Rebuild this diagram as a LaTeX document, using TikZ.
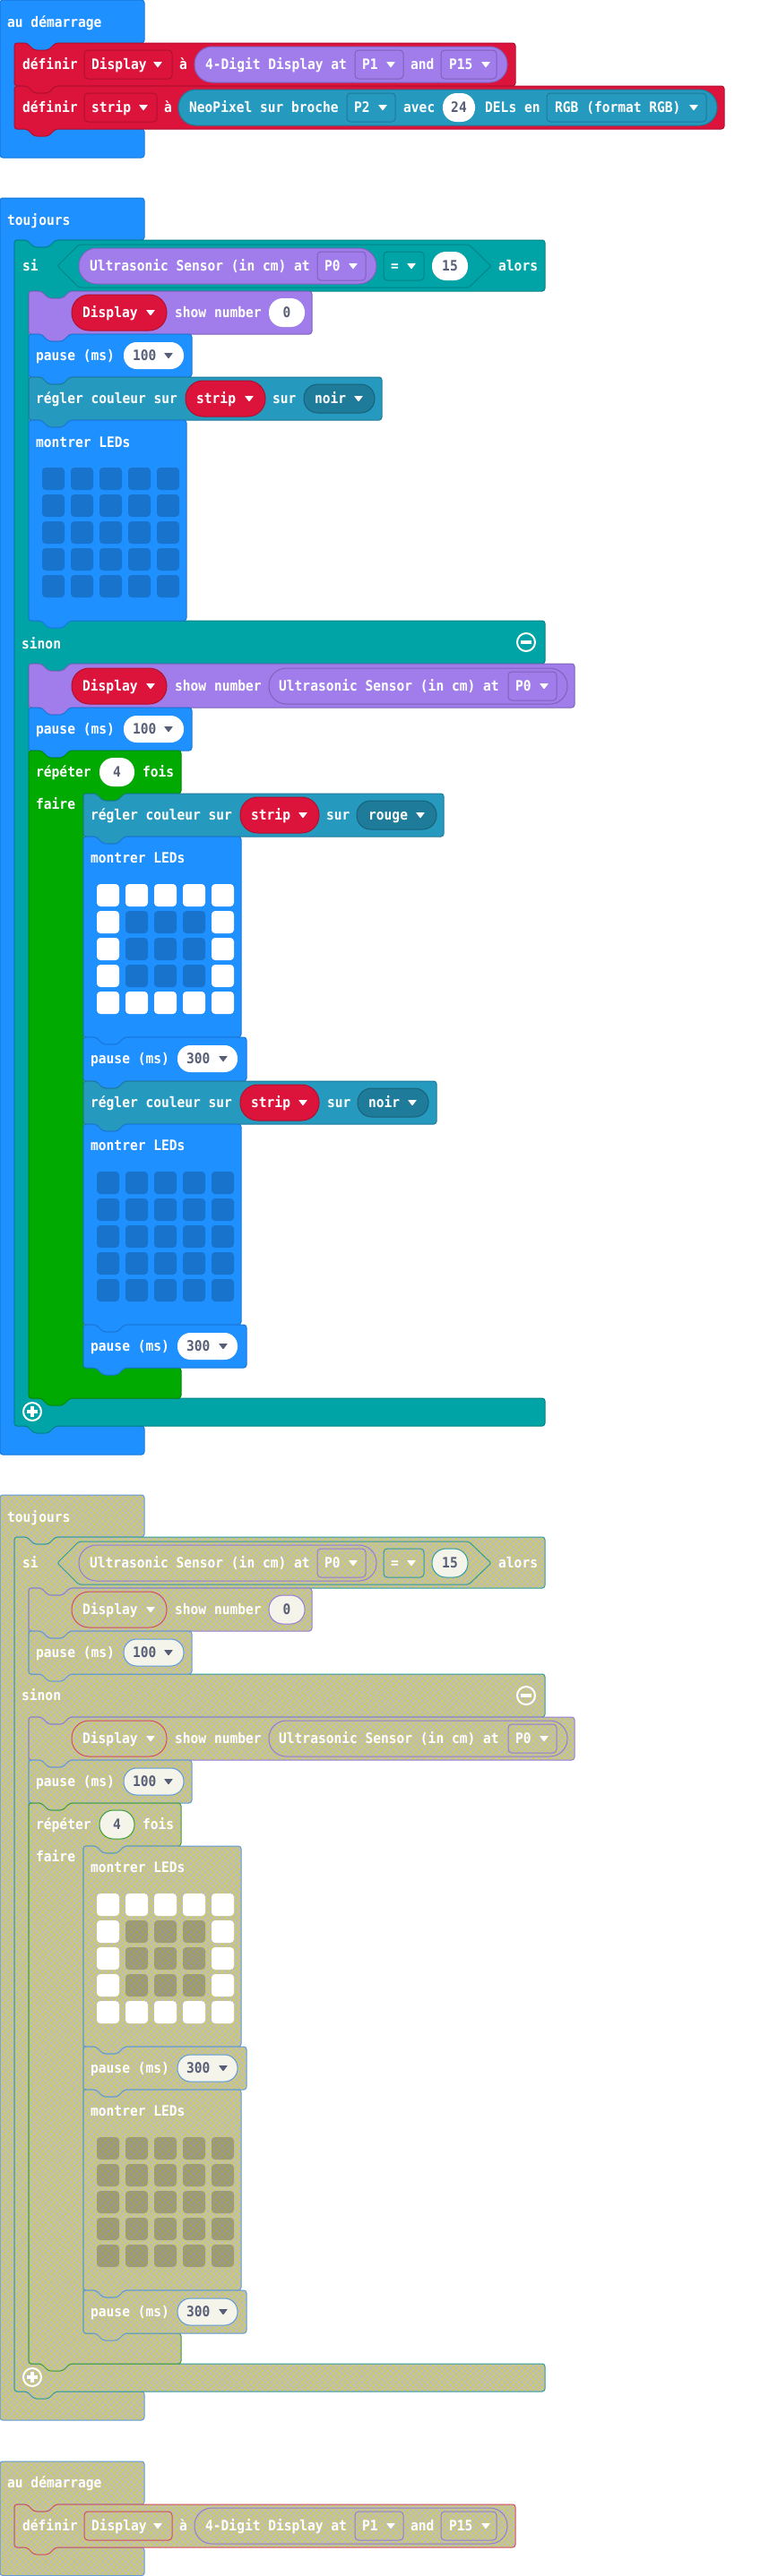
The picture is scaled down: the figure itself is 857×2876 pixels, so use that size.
\documentclass[tikz,border=0pt]{standalone}
\usepackage{fontspec}
\usepackage{tikz}
\usetikzlibrary{patterns.meta}
\newfontfamily\blkfont{DejaVu Sans Mono}[FakeStretch=0.91]

\definecolor{basicblue}{HTML}{1E90FF}
\definecolor{basicline}{HTML}{1877D9}
\definecolor{varred}{HTML}{DC143C}
\definecolor{varline}{HTML}{B0102F}
\definecolor{sonarpurple}{HTML}{A07DEA}
\definecolor{sonarline}{HTML}{7F62BB}
\definecolor{logicteal}{HTML}{00A4A6}
\definecolor{logicline}{HTML}{008385}
\definecolor{neoblue}{HTML}{2699BF}
\definecolor{neoline}{HTML}{1E7A99}
\definecolor{neodark}{HTML}{1E7B9A}
\definecolor{loopgreen}{HTML}{00AA00}
\definecolor{loopline}{HTML}{008800}
\definecolor{valgray}{HTML}{575E75}
\definecolor{disgray}{HTML}{BCBCBC}
\definecolor{disyellow}{HTML}{D8D43A}
\definecolor{disblue}{HTML}{5E9AD6}
\definecolor{disteal}{HTML}{2E9C9E}
\definecolor{disred}{HTML}{D64A62}
\definecolor{dispurple}{HTML}{957BD6}
\definecolor{disgreen}{HTML}{3A9E3A}
\definecolor{disivory}{HTML}{F4F4EA}

\tikzset{
  blk/.style={line width=1pt,rounded corners=3pt,line join=round},
  basic/.style={blk,fill=basicblue,draw=basicline},
  varblk/.style={blk,fill=varred,draw=varline},
  sonar/.style={blk,fill=sonarpurple,draw=sonarline},
  logic/.style={blk,fill=logicteal,draw=logicline},
  neo/.style={blk,fill=neoblue,draw=neoline},
  neodk/.style={blk,fill=neodark,draw=neoline!80!black},
  loop/.style={blk,fill=loopgreen,draw=loopline},
  wpill/.style={blk,fill=white},
  dis/.style={blk,fill=disgray,
    postaction={pattern={Lines[angle=45,distance=4.5pt,line width=.6pt]},pattern color=disyellow},
    postaction={pattern={Lines[angle=-45,distance=4.5pt,line width=.6pt]},pattern color=disyellow},
    postaction={draw=#1,line width=1pt}},
  dwp/.style={blk,fill=disivory,draw=#1},
  lbl/.style={anchor=base west,inner sep=0pt,text=white,
    font=\blkfont\bfseries\fontsize{16pt}{18pt}\selectfont},
  vlbl/.style={lbl,text=valgray},
  vmid/.style={lbl,anchor=base,text=valgray}
}

\newcommand{\stmt}[5]{\path[#1] (#2,#3) -- (#2+14,#3) -- (#2+22,#3+8) -- (#2+38,#3+8) -- (#2+46,#3) -- (#4,#3) -- (#4,#5) -- (#2+46,#5) -- (#2+38,#5+8) -- (#2+22,#5+8) -- (#2+14,#5) -- (#2,#5) -- cycle;}
\newcommand{\pill}[6]{\path[#1,rounded corners=#6pt] (#2,#3) rectangle (#4,#5);}
\newcommand{\ddarrow}[3]{\fill[#3,rounded corners=.6pt] (#1-5,#2-3) -- (#1+5,#2-3) -- (#1,#2+3.5) -- cycle;}
\newcommand{\minusic}[2]{\draw[white,line width=2pt] (#1,#2) circle[radius=10pt]; \fill[white] (#1-6,#2-2) rectangle (#1+6,#2+2);}
\newcommand{\plusic}[2]{\draw[white,line width=2pt] (#1,#2) circle[radius=10pt]; \fill[white] (#1-6,#2-2) rectangle (#1+6,#2+2); \fill[white] (#1-2,#2-6) rectangle (#1+2,#2+6);}
\newcommand{\leds}[3]{%
  \foreach \i in {0,...,4}{\foreach \j in {0,...,4}{%
    \pgfmathtruncatemacro\ledon{#3*((\i==0)||(\i==4)||(\j==0)||(\j==4))}%
    \ifnum\ledon=1
      \fill[white,rounded corners=4pt] (#1+32*\i,#2+30*\j) rectangle ++(25,25);
    \else
      \fill[black,opacity=.2,rounded corners=4pt] (#1+32*\i,#2+30*\j) rectangle ++(25,25);
    \fi}}}

\begin{document}
\begin{tikzpicture}[x=1pt,y=-1pt]
\fill[white] (0,0) rectangle (857,2876);
\useasboundingbox (0,0) rectangle (857,2876);

\path[basic] (0,0) -- (161,0) -- (161,48) -- (62,48) -- (54,56) -- (38,56) -- (30,48) -- (16,48) -- (16,144) -- (161,144) -- (161,176) -- (0,176) -- cycle;
\node[lbl] (a-start) at (8,30.5) {au démarrage};
\stmt{varblk}{16}{48}{575}{96}
\node[lbl] (a-def1) at (25,77.5) {définir};
\pill{varblk}{94}{56}{192}{88}{4}
\node[lbl] (a-disp) at (102,77.5) {Display};
\ddarrow{176}{72}{white}
\node[lbl] (a-to1) at (200,77.5) {à};
\pill{sonar}{217}{52}{566}{92}{19.5}
\node[lbl] (a-tm) at (229,77.5) {4-Digit Display at};
\pill{sonar}{396}{56}{450}{88}{4}
\node[lbl] (a-p1) at (404,77.5) {P1};
\ddarrow{436}{72}{white}
\node[lbl] (a-and) at (458,77.5) {and};
\pill{sonar}{492}{56}{554}{88}{4}
\node[lbl] (a-p15) at (501,77.5) {P15};
\ddarrow{542}{72}{white}
\stmt{varblk}{16}{96}{808}{144}
\node[lbl] (a-def2) at (25,125.5) {définir};
\pill{varblk}{94}{104}{175}{136}{4}
\node[lbl] (a-strip) at (102,125.5) {strip};
\ddarrow{160}{120}{white}
\node[lbl] (a-to2) at (183,125.5) {à};
\pill{neo}{199}{100}{800}{140}{19.5}
\node[lbl] (a-neo) at (211,125.5) {NeoPixel sur broche};
\pill{neo}{387}{104}{441}{136}{4}
\node[lbl] (a-p2) at (395,125.5) {P2};
\ddarrow{427}{120}{white}
\node[lbl] (a-avec) at (450,125.5) {avec};
\pill{wpill}{494}{104}{530}{136}{15.5}
\node[vmid] (a-24) at (512,125.5) {24};
\node[lbl] (a-dels) at (541,125.5) {DELs en};
\pill{neo}{610}{104}{788}{136}{4}
\node[lbl] (a-rgb) at (619,125.5) {RGB (format RGB)};
\ddarrow{774}{120}{white}

\path[basic] (0,221) -- (161,221) -- (161,268) -- (62,268) -- (54,276) -- (38,276) -- (30,268) -- (16,268) -- (16,1592) -- (161,1592) -- (161,1624) -- (0,1624) -- cycle;
\node[lbl] (b-forever) at (8,251.5) {toujours};
\path[logic] (16,268) -- (30,268) -- (38,276) -- (54,276) -- (62,268) -- (608,268) -- (608,325) -- (78,325) -- (70,333) -- (54,333) -- (46,325) -- (32,325) -- (32,693) -- (608,693) -- (608,741) -- (78,741) -- (70,749) -- (54,749) -- (46,741) -- (32,741) -- (32,1561) -- (608,1561) -- (608,1592) -- (62,1592) -- (54,1600) -- (38,1600) -- (30,1592) -- (16,1592) -- cycle;
\path[logic,rounded corners=2pt] (64,297) -- (88,273) -- (523,273) -- (548,297) -- (523,321) -- (88,321) -- cycle;
\node[lbl] (b-si) at (25,302.5) {si};
\pill{sonar}{88}{277}{420}{317}{19.5}
\node[lbl] (b-us1) at (100,302.5) {Ultrasonic Sensor (in cm) at};
\pill{sonar}{354}{281}{408}{313}{4}
\node[lbl] (b-p0a) at (362,302.5) {P0};
\ddarrow{394}{297}{white}
\pill{logic}{428}{281}{473}{313}{4}
\node[lbl] (b-eq) at (436,302.5) {=};
\ddarrow{459}{297}{white}
\pill{wpill}{482}{281}{522}{313}{15.5}
\node[vmid] (b-15) at (502,302.5) {15};
\node[lbl] (b-alors) at (556,302.5) {alors};
\stmt{sonar}{32}{325}{348}{373}
\pill{varblk}{80}{329}{186}{369}{19.5}
\node[lbl] (b-disp1) at (92,354.5) {Display};
\ddarrow{168}{349}{white}
\node[lbl] (b-show1) at (195,354.5) {show number};
\pill{wpill}{300}{333}{340}{365}{15.5}
\node[vmid] (b-0) at (320,354.5) {0};
\stmt{basic}{32}{373}{214}{421}
\node[lbl] (b-pause1) at (40,402.5) {pause (ms)};
\pill{wpill}{138}{382}{205}{412}{14.5}
\node[vlbl] (b-100a) at (148,402.5) {100};
\ddarrow{188}{397}{valgray}
\stmt{neo}{32}{421}{426}{469}
\node[lbl] (b-set1) at (40,450.5) {régler couleur sur};
\pill{varblk}{207}{425}{296}{465}{19.5}
\node[lbl] (b-strip1) at (219,450.5) {strip};
\ddarrow{278}{445}{white}
\node[lbl] (b-sur1) at (304,450.5) {sur};
\pill{neodk}{339}{429}{418}{461}{15.5}
\node[lbl] (b-noir1) at (351,450.5) {noir};
\ddarrow{400}{445}{white}
\stmt{basic}{32}{469}{208}{693}
\node[lbl] (b-leds1) at (40,499.5) {montrer LEDs};
\leds{47}{522}{0}
\node[lbl] (b-sinon) at (24,724.5) {sinon};
\minusic{587}{717}
\stmt{sonar}{32}{741}{641}{790}
\pill{varblk}{80}{746}{186}{786}{19.5}
\node[lbl] (b-disp2) at (92,771.5) {Display};
\ddarrow{168}{766}{white}
\node[lbl] (b-show2) at (195,771.5) {show number};
\pill{sonar}{300}{746}{633}{786}{19.5}
\node[lbl] (b-us2) at (311,771.5) {Ultrasonic Sensor (in cm) at};
\pill{sonar}{567}{750}{621}{782}{4}
\node[lbl] (b-p0b) at (575,771.5) {P0};
\ddarrow{607}{766}{white}
\stmt{basic}{32}{790}{214}{838}
\node[lbl] (b-pause2) at (40,819.5) {pause (ms)};
\pill{wpill}{138}{799}{205}{829}{14.5}
\node[vlbl] (b-100b) at (148,819.5) {100};
\ddarrow{188}{814}{valgray}
\path[loop] (32,838) -- (46,838) -- (54,846) -- (70,846) -- (78,838) -- (202,838) -- (202,886) -- (139,886) -- (131,894) -- (115,894) -- (107,886) -- (93,886) -- (93,1527) -- (202,1527) -- (202,1561) -- (78,1561) -- (70,1569) -- (54,1569) -- (46,1561) -- (32,1561) -- cycle;
\node[lbl] (b-rep) at (40,867.5) {répéter};
\pill{wpill}{111}{846}{150}{878}{15.5}
\node[vmid] (b-4) at (130.5,867.5) {4};
\node[lbl] (b-fois) at (159,867.5) {fois};
\node[lbl] (b-faire) at (40,903.5) {faire};
\stmt{neo}{93}{886}{495}{934}
\node[lbl] (b-set2) at (101,915.5) {régler couleur sur};
\pill{varblk}{268}{890}{356}{930}{19.5}
\node[lbl] (b-strip2) at (280,915.5) {strip};
\ddarrow{338}{910}{white}
\node[lbl] (b-sur2) at (364,915.5) {sur};
\pill{neodk}{398}{894}{487}{926}{15.5}
\node[lbl] (b-rouge) at (411,915.5) {rouge};
\ddarrow{469}{910}{white}
\stmt{basic}{93}{934}{269}{1158}
\node[lbl] (b-leds2) at (101,963.5) {montrer LEDs};
\leds{108}{987}{1}
\stmt{basic}{93}{1158}{275}{1207}
\node[lbl] (b-pause3) at (101,1187.5) {pause (ms)};
\pill{wpill}{198}{1167}{265}{1197}{14.5}
\node[vlbl] (b-300a) at (208,1187.5) {300};
\ddarrow{249}{1182}{valgray}
\stmt{neo}{93}{1207}{487}{1255}
\node[lbl] (b-set3) at (101,1236.5) {régler couleur sur};
\pill{varblk}{268}{1211}{356}{1251}{19.5}
\node[lbl] (b-strip3) at (280,1236.5) {strip};
\ddarrow{338}{1231}{white}
\node[lbl] (b-sur3) at (365,1236.5) {sur};
\pill{neodk}{399}{1215}{478}{1247}{15.5}
\node[lbl] (b-noir2) at (411,1236.5) {noir};
\ddarrow{460}{1231}{white}
\stmt{basic}{93}{1255}{269}{1479}
\node[lbl] (b-leds3) at (101,1284.5) {montrer LEDs};
\leds{108}{1308}{0}
\stmt{basic}{93}{1479}{275}{1527}
\node[lbl] (b-pause4) at (101,1508.5) {pause (ms)};
\pill{wpill}{198}{1488}{265}{1518}{14.5}
\node[vlbl] (b-300b) at (208,1508.5) {300};
\ddarrow{249}{1503}{valgray}
\plusic{36}{1576}

\path[dis=disblue] (0,1669) -- (161,1669) -- (161,1716) -- (62,1716) -- (54,1724) -- (38,1724) -- (30,1716) -- (16,1716) -- (16,2670) -- (161,2670) -- (161,2702) -- (0,2702) -- cycle;
\node[lbl] (c-forever) at (8,1699.5) {toujours};
\path[dis=disteal] (16,1716) -- (30,1716) -- (38,1724) -- (54,1724) -- (62,1716) -- (608,1716) -- (608,1773) -- (78,1773) -- (70,1781) -- (54,1781) -- (46,1773) -- (32,1773) -- (32,1869) -- (608,1869) -- (608,1917) -- (78,1917) -- (70,1925) -- (54,1925) -- (46,1917) -- (32,1917) -- (32,2639) -- (608,2639) -- (608,2670) -- (62,2670) -- (54,2678) -- (38,2678) -- (30,2670) -- (16,2670) -- cycle;
\path[dis=disteal,rounded corners=2pt] (64,1745) -- (88,1721) -- (523,1721) -- (548,1745) -- (523,1769) -- (88,1769) -- cycle;
\node[lbl] (c-si) at (25,1750.5) {si};
\pill{dis=dispurple}{88}{1725}{420}{1765}{19.5}
\node[lbl] (c-us1) at (100,1750.5) {Ultrasonic Sensor (in cm) at};
\pill{dis=dispurple}{354}{1729}{408}{1761}{4}
\node[lbl] (c-p0a) at (362,1750.5) {P0};
\ddarrow{394}{1745}{white}
\pill{dis=disteal}{428}{1729}{473}{1761}{4}
\node[lbl] (c-eq) at (436,1750.5) {=};
\ddarrow{459}{1745}{white}
\pill{dwp=disteal}{482}{1729}{522}{1761}{15.5}
\node[vmid] (c-15) at (502,1750.5) {15};
\node[lbl] (c-alors) at (556,1750.5) {alors};
\stmt{dis=dispurple}{32}{1773}{348}{1821}
\pill{dis=disred}{80}{1777}{186}{1817}{19.5}
\node[lbl] (c-disp1) at (92,1802.5) {Display};
\ddarrow{168}{1797}{white}
\node[lbl] (c-show1) at (195,1802.5) {show number};
\pill{dwp=dispurple}{300}{1781}{340}{1813}{15.5}
\node[vmid] (c-0) at (320,1802.5) {0};
\stmt{dis=disblue}{32}{1821}{214}{1869}
\node[lbl] (c-pause1) at (40,1850.5) {pause (ms)};
\pill{dwp=disblue}{138}{1830}{205}{1860}{14.5}
\node[vlbl] (c-100a) at (148,1850.5) {100};
\ddarrow{188}{1845}{valgray}
\node[lbl] (c-sinon) at (24,1898.5) {sinon};
\minusic{587}{1893}
\stmt{dis=dispurple}{32}{1917}{641}{1965}
\pill{dis=disred}{80}{1921}{186}{1961}{19.5}
\node[lbl] (c-disp2) at (92,1946.5) {Display};
\ddarrow{168}{1941}{white}
\node[lbl] (c-show2) at (195,1946.5) {show number};
\pill{dis=dispurple}{300}{1921}{633}{1961}{19.5}
\node[lbl] (c-us2) at (311,1946.5) {Ultrasonic Sensor (in cm) at};
\pill{dis=dispurple}{567}{1925}{621}{1957}{4}
\node[lbl] (c-p0b) at (575,1946.5) {P0};
\ddarrow{607}{1941}{white}
\stmt{dis=disblue}{32}{1965}{214}{2013}
\node[lbl] (c-pause2) at (40,1994.5) {pause (ms)};
\pill{dwp=disblue}{138}{1974}{205}{2004}{14.5}
\node[vlbl] (c-100b) at (148,1994.5) {100};
\ddarrow{188}{1989}{valgray}
\path[dis=disgreen] (32,2013) -- (46,2013) -- (54,2021) -- (70,2021) -- (78,2013) -- (202,2013) -- (202,2061) -- (139,2061) -- (131,2069) -- (115,2069) -- (107,2061) -- (93,2061) -- (93,2605) -- (202,2605) -- (202,2639) -- (78,2639) -- (70,2647) -- (54,2647) -- (46,2639) -- (32,2639) -- cycle;
\node[lbl] (c-rep) at (40,2042.5) {répéter};
\pill{dwp=disgreen}{111}{2021}{150}{2053}{15.5}
\node[vmid] (c-4) at (130.5,2042.5) {4};
\node[lbl] (c-fois) at (159,2042.5) {fois};
\node[lbl] (c-faire) at (40,2078.5) {faire};
\stmt{dis=disblue}{93}{2061}{269}{2285}
\node[lbl] (c-leds1) at (101,2090.5) {montrer LEDs};
\leds{108}{2114}{1}
\stmt{dis=disblue}{93}{2285}{275}{2333}
\node[lbl] (c-pause3) at (101,2314.5) {pause (ms)};
\pill{dwp=disblue}{198}{2294}{265}{2324}{14.5}
\node[vlbl] (c-300a) at (208,2314.5) {300};
\ddarrow{249}{2309}{valgray}
\stmt{dis=disblue}{93}{2333}{269}{2557}
\node[lbl] (c-leds2) at (101,2362.5) {montrer LEDs};
\leds{108}{2386}{0}
\stmt{dis=disblue}{93}{2557}{275}{2605}
\node[lbl] (c-pause4) at (101,2586.5) {pause (ms)};
\pill{dwp=disblue}{198}{2566}{265}{2596}{14.5}
\node[vlbl] (c-300b) at (208,2586.5) {300};
\ddarrow{249}{2581}{valgray}
\plusic{36}{2654}

\path[dis=disblue] (0,2748) -- (161,2748) -- (161,2796) -- (62,2796) -- (54,2804) -- (38,2804) -- (30,2796) -- (16,2796) -- (16,2844) -- (161,2844) -- (161,2875.5) -- (0,2875.5) -- cycle;
\node[lbl] (d-start) at (8,2777.5) {au démarrage};
\stmt{dis=disred}{16}{2796}{575}{2844}
\node[lbl] (d-def) at (25,2825.5) {définir};
\pill{dis=disred}{94}{2804}{192}{2836}{4}
\node[lbl] (d-disp) at (102,2825.5) {Display};
\ddarrow{176}{2820}{white}
\node[lbl] (d-to) at (200,2825.5) {à};
\pill{dis=dispurple}{217}{2800}{566}{2840}{19.5}
\node[lbl] (d-tm) at (229,2825.5) {4-Digit Display at};
\pill{dis=dispurple}{396}{2804}{450}{2836}{4}
\node[lbl] (d-p1) at (404,2825.5) {P1};
\ddarrow{436}{2820}{white}
\node[lbl] (d-and) at (458,2825.5) {and};
\pill{dis=dispurple}{492}{2804}{554}{2836}{4}
\node[lbl] (d-p15) at (501,2825.5) {P15};
\ddarrow{542}{2820}{white}
\end{tikzpicture}
\end{document}
